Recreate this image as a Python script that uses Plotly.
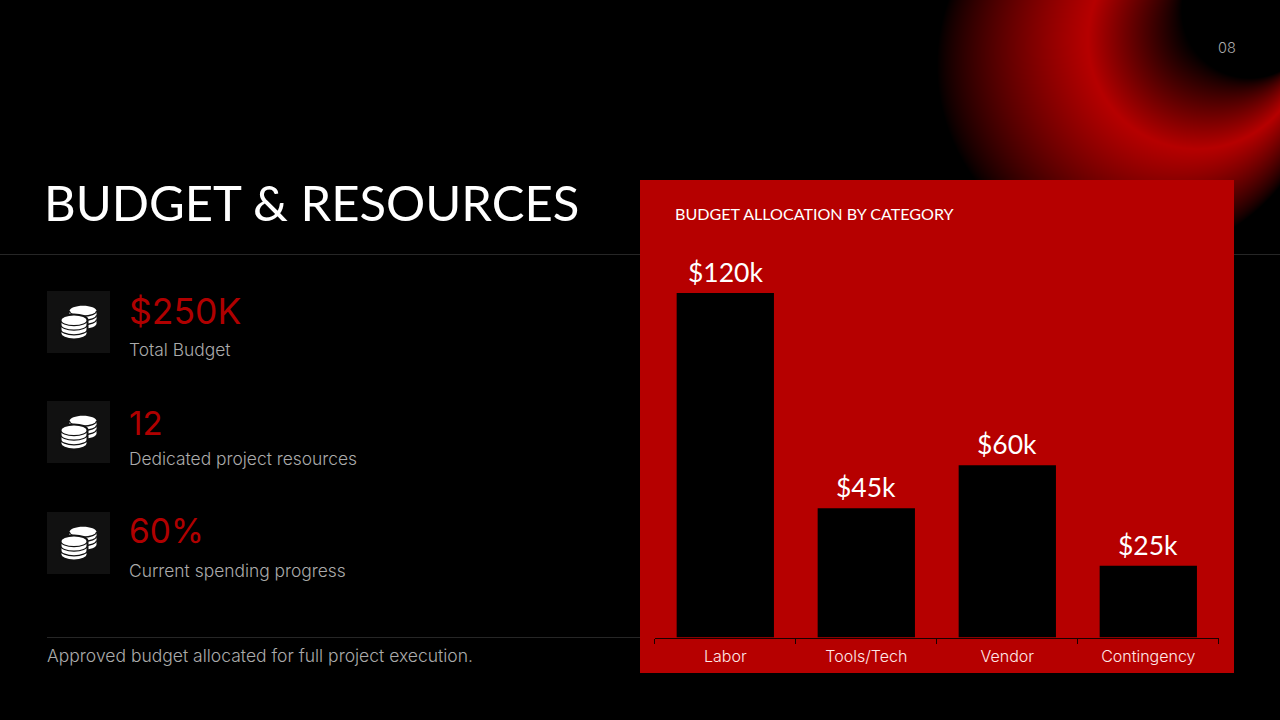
import base64, struct, zlib
import numpy as np
import plotly.graph_objects as go

# ---- data ----
categories = ["Labor", "Tools/Tech", "Vendor", "Contingency"]
allocation_k = [120, 45, 60, 25]
bar_labels = ["$120k", "$45k", "$60k", "$25k"]
stat_values = ["$250K", "12", "60%"]
stat_labels = ["Total Budget", "Dedicated project resources", "Current spending progress"]
title_text = "BUDGET & RESOURCES"
panel_title = "BUDGET ALLOCATION BY CATEGORY"
footer_text = "Approved budget allocated for full project execution."
page_number = "08"

W, H = 1280, 720
RED = "#B60000"
VALUE_RED = "#B00000"
GREY = "#ABABAB"
FONT_HEAD = "Lato"
FONT_BODY = "Inter"

def px(x): return x / W
def py(y): return 1 - y / H


def glow_png():
    """Decorative blurred ring in the top right corner of the slide."""
    x0, y0, x1, y1 = 900, 0, 1280, 300
    xs, ys = np.meshgrid(np.arange(x0, x1) + .5, np.arange(y0, y1) + .5)
    cx, cy, r = 1197.0, 40.0, 109.0
    dx, dy = xs - cx, ys - cy
    d = np.hypot(dx, dy) + 1e-6
    qx, qy = cx + r * dx / d, cy + r * dy / d
    ix, iy, ri = 1250.0, 10.0, 68.0
    ox, oy, ro = 1130.0, 65.0, 193.0
    inner = (np.hypot(xs - ix, ys - iy) - ri) / np.maximum(np.hypot(qx - ix, qy - iy) - ri, 1)
    outer = (ro - np.hypot(xs - ox, ys - oy)) / np.maximum(ro - np.hypot(qx - ox, qy - oy), 1)
    inner = np.clip(inner, 0, 1)
    outer = np.clip(outer, 0, 1) ** 0.8
    b = np.where(d < r, inner, outer)
    rgb = np.zeros(b.shape + (3,), dtype=np.uint8)
    rgb[..., 0] = (b * 182).astype(np.uint8)
    raw = b"".join(b"\x00" + row.tobytes() for row in rgb)
    def chunk(t, c):
        return struct.pack(">I", len(c)) + t + c + struct.pack(">I", zlib.crc32(t + c))
    h, w = b.shape
    png = (b"\x89PNG\r\n\x1a\n" + chunk(b"IHDR", struct.pack(">IIBBBBB", w, h, 8, 2, 0, 0, 0))
           + chunk(b"IDAT", zlib.compress(raw)) + chunk(b"IEND", b""))
    return "data:image/png;base64," + base64.b64encode(png).decode(), (x0, y0, x1 - x0, y1 - y0)


def text(x, y, s, size, color, family=FONT_BODY, anchor="left", weight=400):
    return dict(xref="paper", yref="paper", x=px(x), y=py(y), text=s, showarrow=False,
                xanchor=anchor, yanchor="middle", align=anchor,
                font=dict(family=family, size=size, color=color, weight=weight))


def rect(x0, y0, x1, y1, fill):
    return dict(type="rect", xref="paper", yref="paper", x0=px(x0), x1=px(x1), y0=py(y0), y1=py(y1),
                fillcolor=fill, line_width=0, layer="below")


def hline(x0, x1, y, color="#262626"):
    return dict(type="line", xref="paper", yref="paper", x0=px(x0), x1=px(x1), y0=py(y), y1=py(y),
                line=dict(color=color, width=1), layer="below")


def coin(cx, top, rx, ry, bands, band_h, outline=None):
    """Stack of coins as an SVG path in slide pixels, mapped to paper coordinates."""
    k = 0.5523
    P = lambda x, y: f"{px(x):.5f},{py(y):.5f}"
    bottom = top + bands * band_h
    d = (f"M{P(cx-rx,top)} C{P(cx-rx,top-k*ry)} {P(cx-k*rx,top-ry)} {P(cx,top-ry)} "
         f"C{P(cx+k*rx,top-ry)} {P(cx+rx,top-k*ry)} {P(cx+rx,top)} L{P(cx+rx,bottom)} "
         f"C{P(cx+rx,bottom+k*ry)} {P(cx+k*rx,bottom+ry)} {P(cx,bottom+ry)} "
         f"C{P(cx-k*rx,bottom+ry)} {P(cx-rx,bottom+k*ry)} {P(cx-rx,bottom)} Z")
    out = [dict(type="path", xref="paper", yref="paper", path=d, fillcolor="#FFFFFF",
                line=dict(color=outline or "#FFFFFF", width=2 if outline else 0), layer="below")]
    for i in range(0, bands):
        y = top + i * band_h
        sep = (f"M{P(cx-rx,y)} C{P(cx-rx,y+k*ry)} {P(cx-k*rx,y+ry)} {P(cx,y+ry)} "
               f"C{P(cx+k*rx,y+ry)} {P(cx+rx,y+k*ry)} {P(cx+rx,y)}")
        out.append(dict(type="path", xref="paper", yref="paper", path=sep,
                        line=dict(color="#111111", width=1.2), layer="below"))
    return out


shapes = [hline(0, 640, 254.5), hline(1234, 1280, 254.5), hline(47, 640, 637.5),
          rect(640, 180, 1234, 673, RED)]
annotations = [
    text(42, 202, title_text, 49, "#FFFFFF", FONT_HEAD),
    text(1226.5, 48, page_number, 14.5, GREY, FONT_BODY, "center", 300),
    text(673, 213.5, panel_title, 16.1, "#FFFFFF", FONT_HEAD),
    text(45, 655, footer_text, 17.5, GREY, FONT_BODY, weight=300),
]

icon_tops = [291, 401, 512]
value_y = [311, 423, 531]
value_size = [35.5, 33, 33.5]
label_y = [349, 459, 570]
for top, vy, vs, ly, v, lab in zip(icon_tops, value_y, value_size, label_y, stat_values, stat_labels):
    shapes.append(rect(47, top, 110, top + 62, "#111111"))
    shapes += coin(83, top + 20, 13.5, 5.2, 3, 4.2)
    shapes += coin(74, top + 29, 13.5, 5.6, 3, 4.6, outline="#111111")
    annotations.append(text(127, vy, v, vs, VALUE_RED, FONT_BODY, weight=400))
    annotations.append(text(127, ly, lab, 17.4, GREY, FONT_BODY, weight=300))

for cat, val, lab in zip(categories, allocation_k, bar_labels):
    annotations.append(dict(xref="x", yref="y", x=cat, y=val, text=lab, showarrow=False,
                            xanchor="center", yanchor="bottom", yshift=3,
                            font=dict(family=FONT_HEAD, size=26.5, color="#FFFFFF")))

src, (ix0, iy0, iw, ih) = glow_png()

fig = go.Figure(go.Bar(
    x=categories, y=allocation_k, width=0.69, marker=dict(color="#000000", line_width=0),
    cliponaxis=False, hoverinfo="skip",
))
fig.update_layout(
    width=W, height=H, margin=dict(l=0, r=0, t=0, b=0), autosize=False,
    paper_bgcolor="#000000", plot_bgcolor="rgba(0,0,0,0)", showlegend=False,
    shapes=shapes, annotations=annotations,
    images=[dict(source=src, xref="paper", yref="paper", x=px(ix0), y=py(iy0),
                 sizex=iw / W, sizey=ih / H, xanchor="left", yanchor="top",
                 sizing="stretch", layer="below")],
    xaxis=dict(domain=[px(654.8), px(1218.8)], anchor="y", type="category", showgrid=False,
               showline=True, linecolor="#1A0000", linewidth=1, ticks="outside", tickson="boundaries",
               ticklen=5, tickcolor="#1A0000", tickwidth=1, ticklabelstandoff=4,
               tickfont=dict(family=FONT_BODY, size=16, color="#FFE8E8", weight=300)),
    yaxis=dict(domain=[py(637.5), py(235.5)], range=[0, 140], visible=False),
)
fig.write_html("out.html", config=dict(displayModeBar=False), post_script=(
    "document.body.style.margin='0';document.body.style.background='#000';"
    "document.documentElement.style.overflow='hidden';"))
